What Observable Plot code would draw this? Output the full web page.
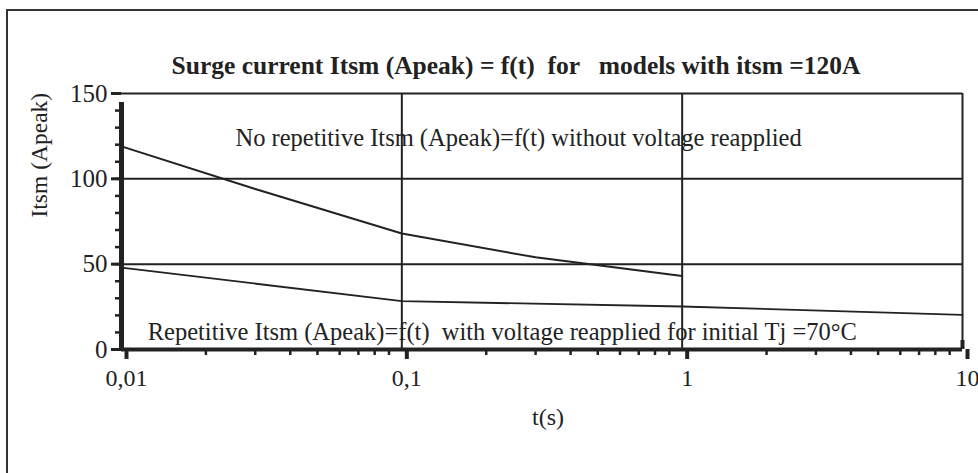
<!DOCTYPE html>
<html><head><meta charset="utf-8">
<script src="https://cdn.jsdelivr.net/npm/d3@7"></script>
<script src="https://cdn.jsdelivr.net/npm/@observablehq/plot@0.6"></script>
<style>
html,body{margin:0;padding:0;background:#fff;overflow:hidden;}
#wrap{position:relative;width:978px;height:473px;overflow:hidden;}
#wrap svg{position:absolute;left:0;top:0;}
#border{position:absolute;left:6px;top:9px;width:1200px;height:800px;border:2.5px solid #333;}
svg text{font-family:"Liberation Serif","Times New Roman",serif;}
</style></head><body><div id="wrap"><div id="border"></div></div>
<script>
// Series: No repetitive Itsm (without voltage reapplied)
const tNoRep = [0.01, 0.03, 0.1, 0.3, 1];
const iNoRep = [119, 94, 68, 54, 43];
// Series: Repetitive Itsm (with voltage reapplied, Tj = 70°C)
const tRep = [0.01, 0.1, 1, 10];
const iRep = [48, 28.3, 25.2, 20.3];
// Ticks
const xMajor = [0.01, 0.1, 1, 10];
const xMajorLabels = ["0,01", "0,1", "1", "10"];
const xMinor = [0.01, 0.1, 1].flatMap(d => [2,3,4,5,6,7,8,9].map(k => +(k * d).toPrecision(3)));
const yMajor = [0, 50, 100, 150];
const yMinor = d3.range(0, 151, 10);
const gridY = [50, 100, 150];
const gridX = [0.1, 1, 10];
const titleText = "Surge current Itsm (Apeak) = f(t) \u00a0for \u00a0\u00a0models with itsm =120A";
const noteNoRep = "No repetitive Itsm (Apeak)=f(t) without voltage reapplied";
const noteRep = "Repetitive Itsm (Apeak)=f(t) \u00a0with voltage reapplied for initial Tj =70°C";

const noRep = tNoRep.map((t, i) => ({t, v: iNoRep[i]}));
const rep = tRep.map((t, i) => ({t, v: iRep[i]}));
const ink = "#222";

const chart = Plot.plot({
  width: 978, height: 473,
  marginLeft: 121, marginRight: 16, marginTop: 93, marginBottom: 124,
  x: {type: "log", domain: [0.01, 10]},
  y: {domain: [0, 150]},
  style: {fontFamily: "Liberation Serif", fontSize: "24px", color: ink, background: "transparent", overflow: "visible"},
  marks: [
    Plot.ruleY(gridY, {stroke: ink, strokeWidth: 2}),
    Plot.ruleX(gridX, {stroke: ink, strokeWidth: 2}),
    Plot.line(noRep, {x: "t", y: "v", stroke: ink, strokeWidth: 2}),
    Plot.line(rep, {x: "t", y: "v", stroke: ink, strokeWidth: 1.8}),
    Plot.text([noteNoRep], {x: 0.0255, y: 123.6, textAnchor: "start", fontSize: 24.5, fill: ink}),
    Plot.text([noteRep], {x: 0.0124, y: 10, textAnchor: "start", fontSize: 24.5, fill: ink}),
    Plot.axisX(xMinor, {tickSize: 6, strokeWidth: 2.5, stroke: ink, tickFormat: () => "", label: null}),
    Plot.axisX(xMajor, {tickSize: 10, strokeWidth: 4, stroke: ink, tickPadding: 9, dx: 5, fontSize: 24,
      tickFormat: d => xMajorLabels[xMajor.indexOf(d)], label: null}),
    Plot.axisX([10], {tickSize: -9, strokeWidth: 4, stroke: ink, tickFormat: () => "", label: null}),
    Plot.axisY(yMinor, {tickSize: 6, strokeWidth: 2.5, stroke: ink, tickFormat: () => "", label: null}),
    Plot.axisY(yMajor, {tickSize: 10, strokeWidth: 3, stroke: ink, tickPadding: 4, fontSize: 25, label: null}),
    Plot.ruleY([0], {stroke: ink, strokeWidth: 4}),
    Plot.ruleX([0.01], {y1: 0, y2: 150, stroke: ink, strokeWidth: 5, insetBottom: -9}),
    Plot.text([titleText], {frameAnchor: "top", dy: -38, dx: -26, fontWeight: "bold", fontSize: 25.5, fill: ink}),
    Plot.text(["Itsm (Apeak)"], {frameAnchor: "left", dx: -82, dy: -4, rotate: -90, fontSize: 23.5, fill: ink}),
    Plot.text(["t(s)"], {frameAnchor: "bottom", dy: 75, dx: 6, fontSize: 24, fill: ink})
  ]
});
document.getElementById("wrap").appendChild(chart);
</script></body></html>
